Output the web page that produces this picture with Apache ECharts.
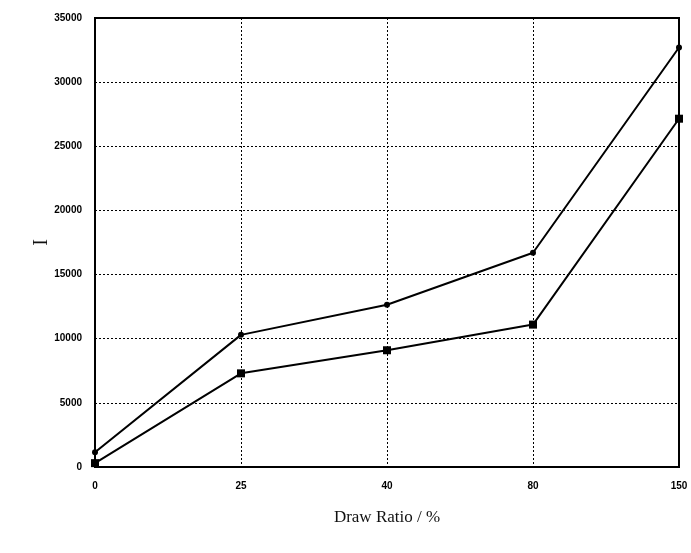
<!DOCTYPE html>
<html>
<head>
<meta charset="utf-8">
<script src="https://cdn.jsdelivr.net/npm/echarts@6/dist/echarts.min.js"></script>
<style>html,body{margin:0;padding:0;background:#fff}#c{width:691px;height:553px}</style>
</head>
<body>
<div id="c"></div>
<script>
var categories = ['0', '25', '40', '80', '150'];
var seriesUpper = [1150, 10300, 12650, 16700, 32700];
var seriesLower = [300, 7300, 9100, 11100, 27150];
var yTicks = { min: 0, max: 35000, interval: 5000 };

var chart = echarts.init(document.getElementById('c'));
chart.setOption({
  backgroundColor: '#fff',
  animation: false,
  grid: { left: 95, right: 12, top: 18, bottom: 86, show: true, borderColor: '#000', borderWidth: 2 },
  xAxis: {
    type: 'category', data: categories, boundaryGap: false,
    name: 'Draw Ratio / %', nameLocation: 'middle', nameGap: 42,
    nameTextStyle: { fontFamily: 'Liberation Serif', fontSize: 17, color: '#111' },
    axisLine: { lineStyle: { color: '#000', width: 2 } },
    axisTick: { show: false },
    axisLabel: { fontFamily: 'Liberation Sans', fontWeight: 'bold', fontSize: 10, color: '#000', margin: 14 },
    splitLine: { show: true, lineStyle: { color: '#000', type: [2, 2], width: 1 } }
  },
  yAxis: {
    type: 'value', min: yTicks.min, max: yTicks.max, interval: yTicks.interval,
    name: 'I', nameLocation: 'middle', nameGap: 43, nameRotate: 90, nameMoveOverlap: false,
    nameTextStyle: { fontFamily: 'Liberation Serif', fontSize: 20, color: '#111' },
    axisLine: { show: true, lineStyle: { color: '#000', width: 2 } },
    axisTick: { show: false },
    axisLabel: { fontFamily: 'Liberation Sans', fontWeight: 'bold', fontSize: 10, color: '#000', margin: 13,
      formatter: function (v) { return String(v); } },
    splitLine: { show: true, lineStyle: { color: '#000', type: [2, 2], width: 1 } }
  },
  series: [
    { type: 'line', data: seriesUpper, symbol: 'circle', symbolSize: 6,
      lineStyle: { color: '#000', width: 2 }, itemStyle: { color: '#000' } },
    { type: 'line', data: seriesLower, symbol: 'rect', symbolSize: 8,
      lineStyle: { color: '#000', width: 2 }, itemStyle: { color: '#000' } }
  ]
});
</script>
</body>
</html>
